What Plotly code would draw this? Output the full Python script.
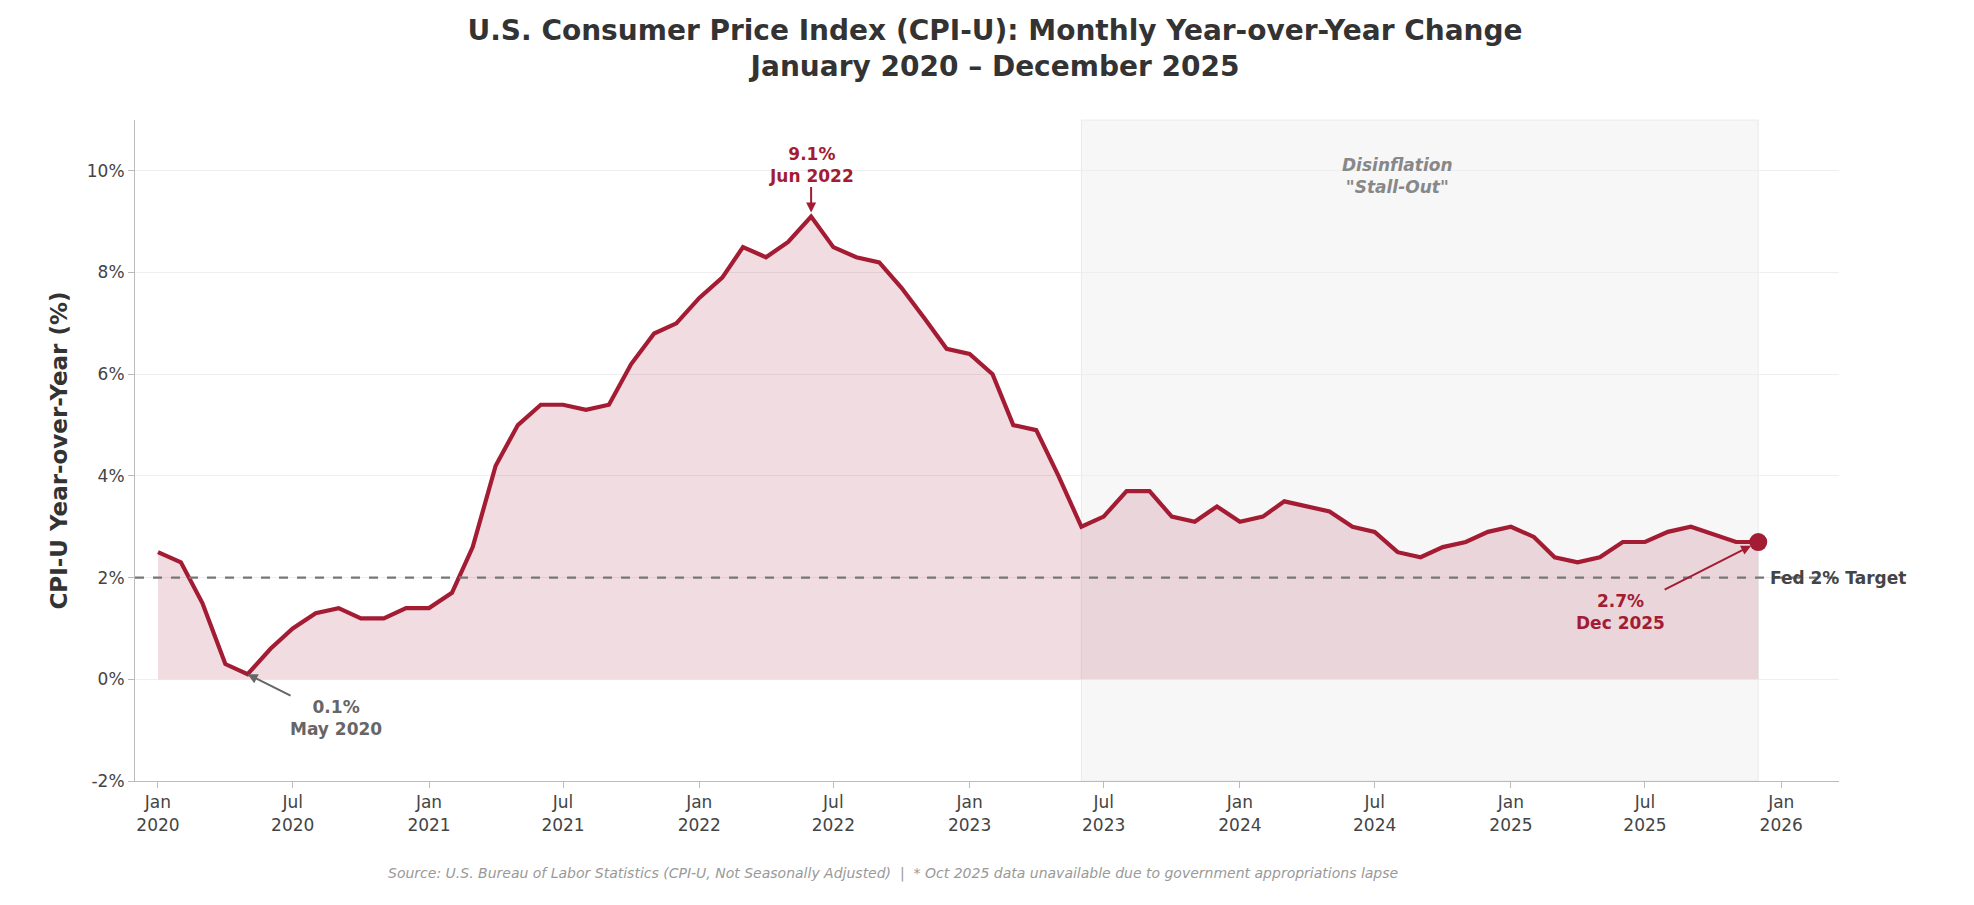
import pandas as pd
import plotly.graph_objects as go

# CPI-U YoY % (Oct 2025 unavailable)
months = list(pd.date_range("2020-01-01", "2025-12-01", freq="MS").strftime("%Y-%m-%d"))
months.remove("2025-10-01")
cpi_yoy = [
    2.5, 2.3, 1.5, 0.3, 0.1, 0.6, 1.0, 1.3, 1.4, 1.2, 1.2, 1.4,
    1.4, 1.7, 2.6, 4.2, 5.0, 5.4, 5.4, 5.3, 5.4, 6.2, 6.8, 7.0,
    7.5, 7.9, 8.5, 8.3, 8.6, 9.1, 8.5, 8.3, 8.2, 7.7, 7.1, 6.5,
    6.4, 6.0, 5.0, 4.9, 4.0, 3.0, 3.2, 3.7, 3.7, 3.2, 3.1, 3.4,
    3.1, 3.2, 3.5, 3.4, 3.3, 3.0, 2.9, 2.5, 2.4, 2.6, 2.7, 2.9,
    3.0, 2.8, 2.4, 2.3, 2.4, 2.7, 2.7, 2.9, 3.0, 2.7, 2.7,
]
tick_vals = pd.date_range("2020-01-01", "2026-01-01", freq="6MS")
tick_text = [d.strftime("%b<br>%Y") for d in tick_vals]
y_ticks = [-2, 0, 2, 4, 6, 8, 10]

red = "#a31c34"
font = "DejaVu Sans"

fig = go.Figure()
fig.add_shape(type="rect", xref="x", yref="paper", x0="2023-06-01", x1="2025-12-01",
              y0=0, y1=1, fillcolor="rgba(200,200,200,0.15)", line=dict(color="rgba(200,200,200,0.3)", width=1),
              layer="below")
fig.add_trace(go.Scatter(x=months, y=cpi_yoy, mode="lines", fill="tozeroy",
                         fillcolor="rgba(163,28,52,0.15)", line=dict(color=red, width=4.2),
                         showlegend=False))
fig.add_trace(go.Scatter(x=[months[-1]], y=[cpi_yoy[-1]], mode="markers",
                         marker=dict(color=red, size=18), showlegend=False))
fig.add_hline(y=2, line=dict(color="#777", width=2.2, dash="dash"))

fig.add_annotation(x="2025-12-01", y=2, xref="x", yref="y", text="<b>Fed 2% Target</b>",
                   showarrow=False, xanchor="left", xshift=10, font=dict(size=17, color="#444"))
fig.add_annotation(x="2022-06-01", y=9.1, text="<b>9.1%<br>Jun 2022</b>", showarrow=True,
                   arrowhead=2, arrowcolor=red, arrowwidth=2, ax=0, ay=-48, yshift=4,
                   font=dict(size=17, color=red))
fig.add_annotation(x="2020-05-01", y=0.1, text="<b>0.1%<br>May 2020</b>", showarrow=True,
                   arrowhead=2, arrowcolor="#666", arrowwidth=2, ax=88, ay=44,
                   font=dict(size=17, color="#666"))
fig.add_annotation(x="2025-12-01", y=2.7, text="<b>2.7%<br>Dec 2025</b>", showarrow=True,
                   arrowhead=2, arrowcolor=red, arrowwidth=2, ax=-138, ay=70, standoff=8,
                   font=dict(size=17, color=red))
fig.add_annotation(x="2024-08-01", y=9.9, text="<b><i>Disinflation<br>\"Stall-Out\"</i></b>",
                   showarrow=False, font=dict(size=17, color="#888"))
fig.add_annotation(x=0.445, y=-0.14, xref="paper", yref="paper", showarrow=False,
                   text="<i>Source: U.S. Bureau of Labor Statistics (CPI-U, Not Seasonally Adjusted)  |  * Oct 2025 data unavailable due to government appropriations lapse</i>",
                   font=dict(size=14, color="#999"), xanchor="center", yanchor="middle")

fig.update_layout(
    width=1974, height=905, template="plotly_white", plot_bgcolor="white",
    font=dict(family=font, size=17, color="#444"),
    title=dict(text="<b>U.S. Consumer Price Index (CPI-U): Monthly Year-over-Year Change<br>January 2020 – December 2025</b>",
               x=0.5, y=0.965, xanchor="center", yanchor="top", font=dict(size=28, color="#333")),
    margin=dict(l=127, r=143, t=112, b=132),
    xaxis=dict(range=["2019-12-01", "2026-03-20"], tickvals=tick_vals, ticktext=tick_text,
               showgrid=False, showline=True, linecolor="#bbb", ticks="outside", tickcolor="#bbb",
               ticklen=6, zeroline=False),
    yaxis=dict(range=[-2, 11], tickvals=y_ticks, ticktext=[f"{v}%" for v in y_ticks],
               showgrid=True, gridcolor="#eee", showline=True, linecolor="#bbb", ticks="outside",
               tickcolor="#bbb", ticklen=6, zeroline=False,
               title=dict(text="<b>CPI-U Year-over-Year (%)</b>", font=dict(size=23, color="#333"), standoff=12)),
)
fig.write_html("out.html")
